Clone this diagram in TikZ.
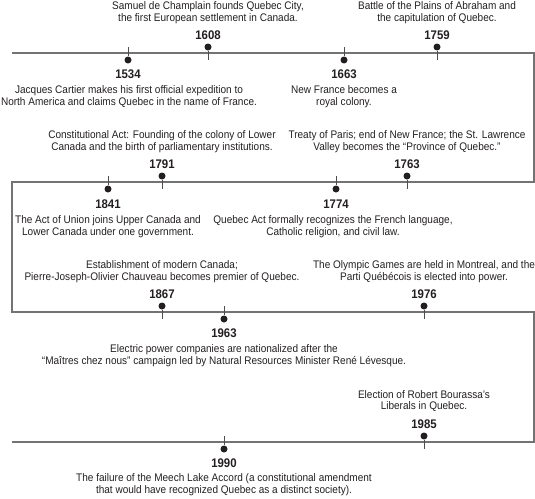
\documentclass[tikz,border=0pt]{standalone}
\usepackage{fontspec}
\setmainfont{Liberation Sans}[FakeStretch=0.912]
\definecolor{tl}{gray}{0.45}
\definecolor{ink}{HTML}{231F20}
\begin{document}
\begin{tikzpicture}[x=1pt,y=-1pt,
  tline/.style={draw=tl,line width=1.3pt},
  stem/.style={draw=ink!80,line width=0.9pt},
  dotn/.style={circle,fill=ink,inner sep=0pt,minimum size=7pt},
  yr/.style={font={\fontsize{12.5}{14}\selectfont\bfseries},text=ink,inner sep=0pt},
  desc/.style={font={\fontsize{11}{11.8}\selectfont},text=ink,align=center,inner sep=0pt}]
\useasboundingbox (0,0) rectangle (535,498);
% serpentine timeline
\coordinate (a0) at (12,53);
\coordinate (a1) at (534,53);
\coordinate (b1) at (534,182);
\coordinate (b0) at (12,182);
\coordinate (c0) at (12,312);
\coordinate (c1) at (534,312);
\coordinate (d1) at (534,442);
\coordinate (d0) at (12,442);
\draw[tline] (a0) -- (a1) -- (b1) -- (b0) -- (c0) -- (c1) -- (d1) -- (d0);

% ---- row 1 ----
\node[dotn] (p1534) at (128,60) {};
\coordinate (q1534) at (128,47);
\draw[stem] (p1534) -- (q1534);
\node[yr] (y1534) at (128,74) {1534};
\node[desc] (t1534) at (129,96.5) {Jacques Cartier makes his first official expedition to\\North America and claims Quebec in the name of France.};

\node[dotn] (p1608) at (208,47) {};
\coordinate (q1608) at (208,60);
\draw[stem] (p1608) -- (q1608);
\node[yr] (y1608) at (208,35) {1608};
\node[desc] (t1608) at (208,13) {Samuel de Champlain founds Quebec City,\\the first European settlement in Canada.};

\node[dotn] (p1663) at (344,60) {};
\coordinate (q1663) at (344,47);
\draw[stem] (p1663) -- (q1663);
\node[yr] (y1663) at (344,74) {1663};
\node[desc] (t1663) at (344,96.5) {New France becomes a\\royal colony.};

\node[dotn] (p1759) at (437,47) {};
\coordinate (q1759) at (437,60);
\draw[stem] (p1759) -- (q1759);
\node[yr] (y1759) at (437,35) {1759};
\node[desc] (t1759) at (437,13) {Battle of the Plains of Abraham and\\the capitulation of Quebec.};

% ---- row 2 ----
\node[dotn] (p1791) at (162,176) {};
\coordinate (q1791) at (162,189);
\draw[stem] (p1791) -- (q1791);
\node[yr] (y1791) at (162,164) {1791};
\node[desc] (t1791) at (162,141.5) {Constitutional Act: Founding of the colony of Lower\\Canada and the birth of parliamentary institutions.};

\node[dotn] (p1763) at (407,176) {};
\coordinate (q1763) at (407,189);
\draw[stem] (p1763) -- (q1763);
\node[yr] (y1763) at (407,164) {1763};
\node[desc] (t1763) at (407,141.5) {Treaty of Paris; end of New France; the St. Lawrence\\Valley becomes the “Province of Quebec.”};

\node[dotn] (p1841) at (108,189) {};
\coordinate (q1841) at (108,176);
\draw[stem] (p1841) -- (q1841);
\node[yr] (y1841) at (108,204) {1841};
\node[desc] (t1841) at (108,226.5) {The Act of Union joins Upper Canada and\\Lower Canada under one government.};

\node[dotn] (p1774) at (336,189) {};
\coordinate (q1774) at (336,176);
\draw[stem] (p1774) -- (q1774);
\node[yr] (y1774) at (336,204) {1774};
\node[desc] (t1774) at (333,226.5) {Quebec Act formally recognizes the French language,\\Catholic religion, and civil law.};

% ---- row 3 ----
\node[dotn] (p1867) at (162,306) {};
\coordinate (q1867) at (162,319);
\draw[stem] (p1867) -- (q1867);
\node[yr] (y1867) at (162,294) {1867};
\node[desc] (t1867) at (162,271.5) {Establishment of modern Canada;\\Pierre-Joseph-Olivier Chauveau becomes premier of Quebec.};

\node[dotn] (p1976) at (424,306) {};
\coordinate (q1976) at (424,319);
\draw[stem] (p1976) -- (q1976);
\node[yr] (y1976) at (424,294) {1976};
\node[desc] (t1976) at (424,271.5) {The Olympic Games are held in Montreal, and the\\Parti Québécois is elected into power.};

\node[dotn] (p1963) at (224,319) {};
\coordinate (q1963) at (224,306);
\draw[stem] (p1963) -- (q1963);
\node[yr] (y1963) at (224,333) {1963};
\node[desc] (t1963) at (224,355.5) {Electric power companies are nationalized after the\\“Maîtres chez nous” campaign led by Natural Resources Minister René Lévesque.};

% ---- row 4 ----
\node[dotn] (p1985) at (424,436) {};
\coordinate (q1985) at (424,449);
\draw[stem] (p1985) -- (q1985);
\node[yr] (y1985) at (424,424) {1985};
\node[desc] (t1985) at (424,401) {Election of Robert Bourassa’s\\Liberals in Quebec.};

\node[dotn] (p1990) at (224,449) {};
\coordinate (q1990) at (224,436);
\draw[stem] (p1990) -- (q1990);
\node[yr] (y1990) at (224,463) {1990};
\node[desc] (t1990) at (224,484.5) {The failure of the Meech Lake Accord (a constitutional amendment\\that would have recognized Quebec as a distinct society).};
\end{tikzpicture}
\end{document}
